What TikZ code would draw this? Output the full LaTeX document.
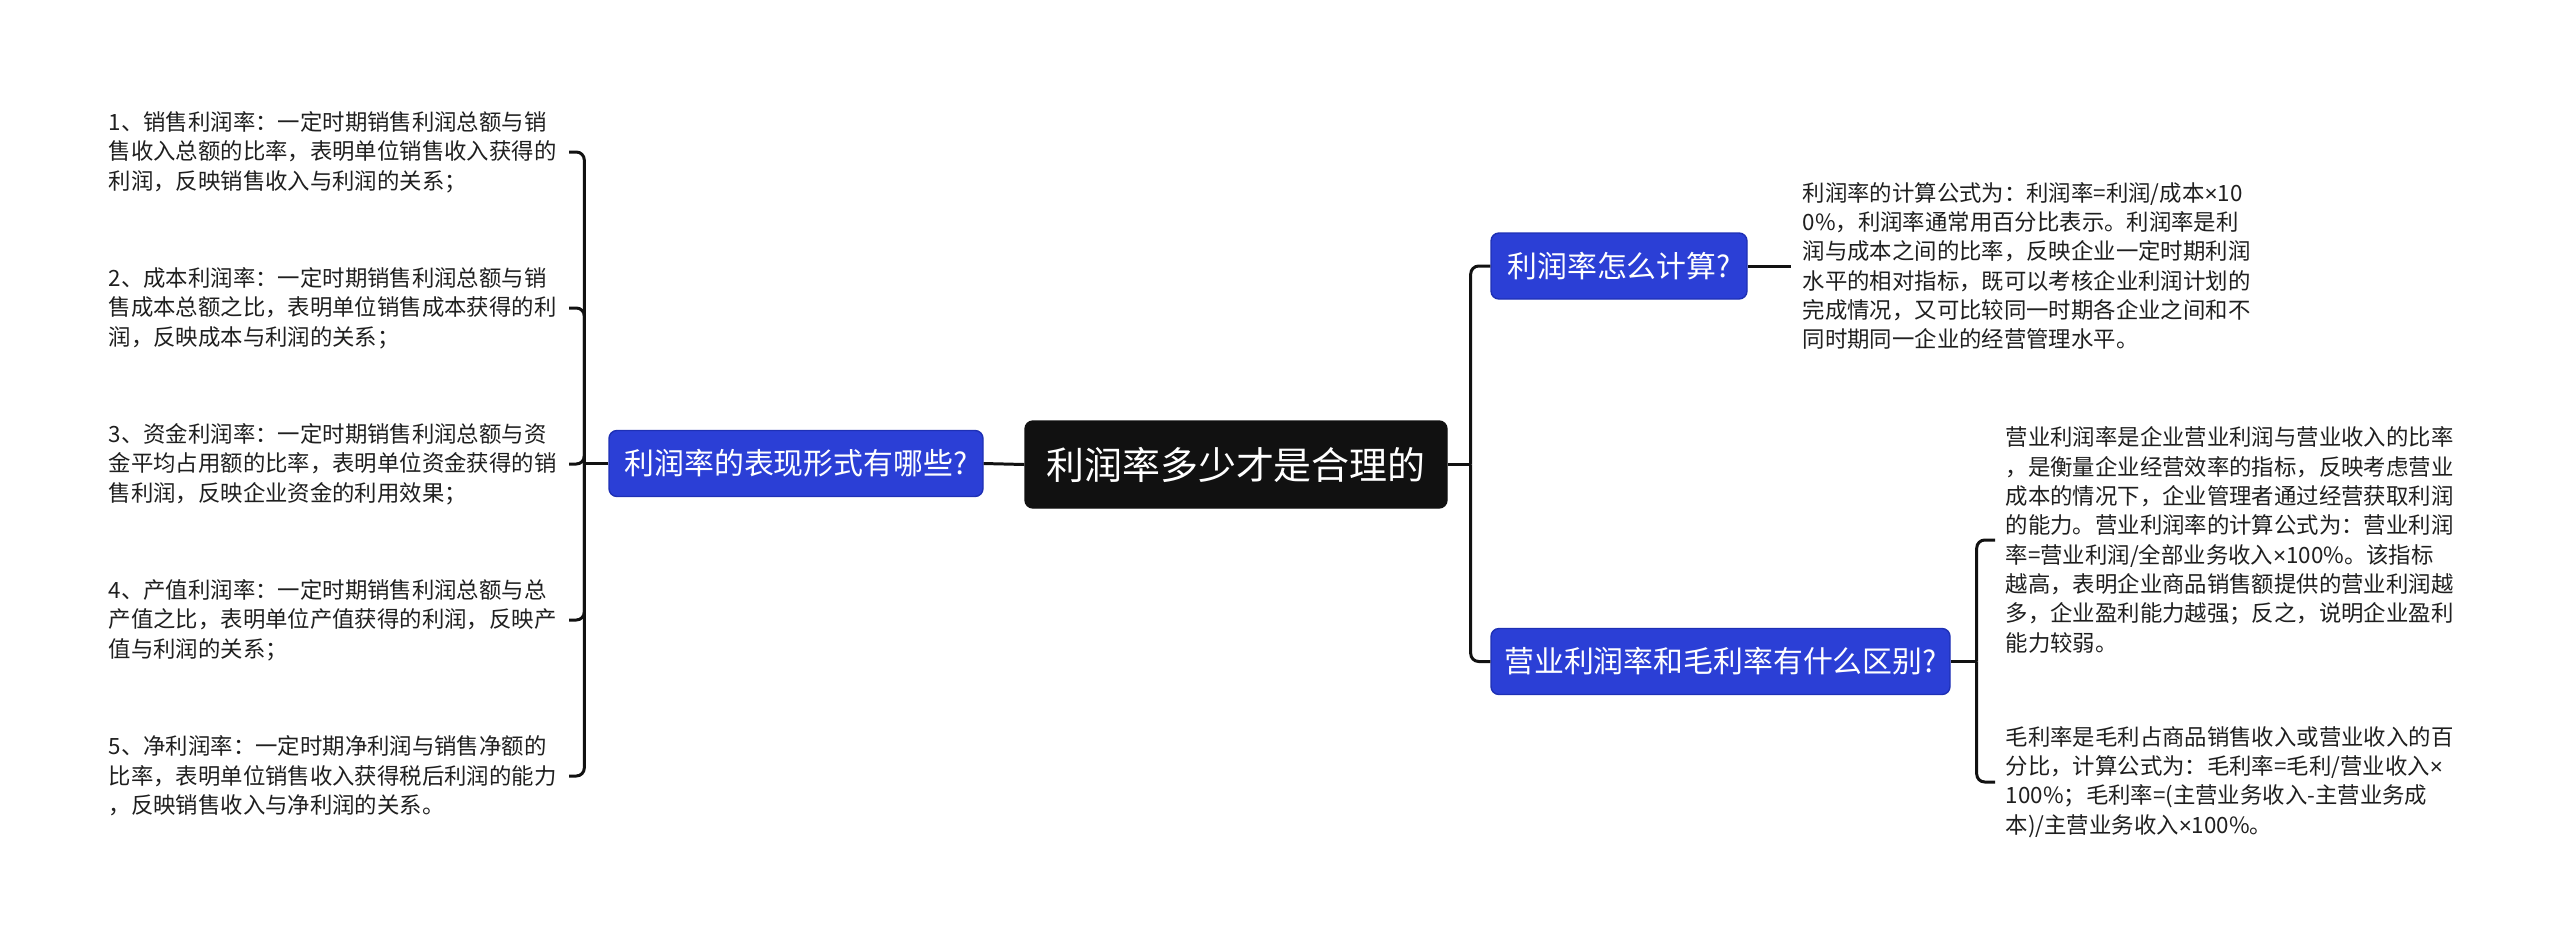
\documentclass[tikz,border=0pt]{standalone}
\usepackage{fontspec}
\newfontfamily\cjk{Noto Sans CJK SC}
\newfontfamily\latinfont{Liberation Sans}
\newcommand{\timesign}{{\latinfont ×}}
\definecolor{rootInk}{HTML}{111111}
\definecolor{topicBlue}{HTML}{2B3FD6}
\definecolor{topicEdge}{HTML}{1E30B5}
\definecolor{branchInk}{HTML}{111111}
\tikzset{
  rootbox/.style={fill=rootInk, draw=rootInk, rounded corners=0.08cm, text=white,
    font={\cjk\fontsize{10.8}{13}\selectfont}, minimum width=4.22cm, minimum height=0.87cm, inner sep=0pt},
  topicbox/.style={fill=topicBlue, draw=topicEdge, line width=0.4pt, rounded corners=0.08cm, text=white,
    font={\cjk\fontsize{8.5}{10}\selectfont}, minimum height=0.66cm, inner sep=0pt},
  leaftext/.style={font={\cjk\fontsize{6.37}{8.34}\selectfont}, text=black!88, align=left, inner sep=0pt, anchor=west},
  branch/.style={draw=branchInk, line width=0.85pt, rounded corners=0.08cm},
}

\begin{document}
\begin{tikzpicture}[x=1cm, y=-1cm]
  \useasboundingbox (0,0) rectangle (25.60,9.49);
  % centre and topics
  \node[rootbox] (root) at (12.36,4.645) {利润率多少才是合理的};
  \node[topicbox, minimum width=3.74cm] (forms) at (7.96,4.635) {利润率的表现形式有哪些?};
  \node[topicbox, minimum width=2.56cm] (calc) at (16.19,2.66) {利润率怎么计算?};
  \node[topicbox, minimum width=4.59cm] (diff) at (17.205,6.615) {营业利润率和毛利率有什么区别?};

  % left: the five kinds
  \foreach \n/\txt in {
    1/{1、销售利润率：一定时期销售利润总额与销\\售收入总额的比率，表明单位销售收入获得的\\利润，反映销售收入与利润的关系；},
    2/{2、成本利润率：一定时期销售利润总额与销\\售成本总额之比，表明单位销售成本获得的利\\润，反映成本与利润的关系；},
    3/{3、资金利润率：一定时期销售利润总额与资\\金平均占用额的比率，表明单位资金获得的销\\售利润，反映企业资金的利用效果；},
    4/{4、产值利润率：一定时期销售利润总额与总\\产值之比，表明单位产值获得的利润，反映产\\值与利润的关系；},
    5/{5、净利润率：一定时期净利润与销售净额的\\比率，表明单位销售收入获得税后利润的能力\\，反映销售收入与净利润的关系。}} {
    \pgfmathsetmacro{\yy}{1.52+1.56*(\n-1)}
    \node[leaftext] (form\n) at (1.08,\yy) {\txt};
  }
  \draw[branch] (root.west) -- (forms.east);
  \draw[branch] (forms.west) -- ++(-0.24,0) coordinate (formsHub);
  \foreach \n in {1,...,5} { \draw[branch, shorten >=0.12cm] (formsHub) |- (form\n.east); }

  % right: notes
  \node[leaftext] (calcNote) at (18.02,2.66) {利润率的计算公式为：利润率=利润/成本\timesign10\\0\%，利润率通常用百分比表示。利润率是利\\润与成本之间的比率，反映企业一定时期利润\\水平的相对指标，既可以考核企业利润计划的\\完成情况，又可比较同一时期各企业之间和不\\同时期同一企业的经营管理水平。};
  \node[leaftext] (opNote) at (20.05,5.40) {营业利润率是企业营业利润与营业收入的比率\\，是衡量企业经营效率的指标，反映考虑营业\\成本的情况下，企业管理者通过经营获取利润\\的能力。营业利润率的计算公式为：营业利润\\率=营业利润/全部业务收入\timesign100\%。该指标\\越高，表明企业商品销售额提供的营业利润越\\多，企业盈利能力越强；反之，说明企业盈利\\能力较弱。};
  \node[leaftext] (grossNote) at (20.05,7.82) {毛利率是毛利占商品销售收入或营业收入的百\\分比，计算公式为：毛利率=毛利/营业收入\timesign\\100\%；毛利率=(主营业务收入-主营业务成\\本)/主营业务收入\timesign100\%。};

  \draw[branch] (root.east) -- ++(0.23,0) coordinate (rootHub);
  \draw[branch] (rootHub) |- (calc.west);
  \draw[branch] (rootHub) |- (diff.west);
  \draw[branch, shorten >=0.11cm] (calc.east) -- (calcNote.west);
  \draw[branch] (diff.east) -- ++(0.26,0) coordinate (diffHub);
  \draw[branch, shorten >=0.10cm] (diffHub) |- (opNote.west);
  \draw[branch, shorten >=0.10cm] (diffHub) |- (grossNote.west);
\end{tikzpicture}
\end{document}
